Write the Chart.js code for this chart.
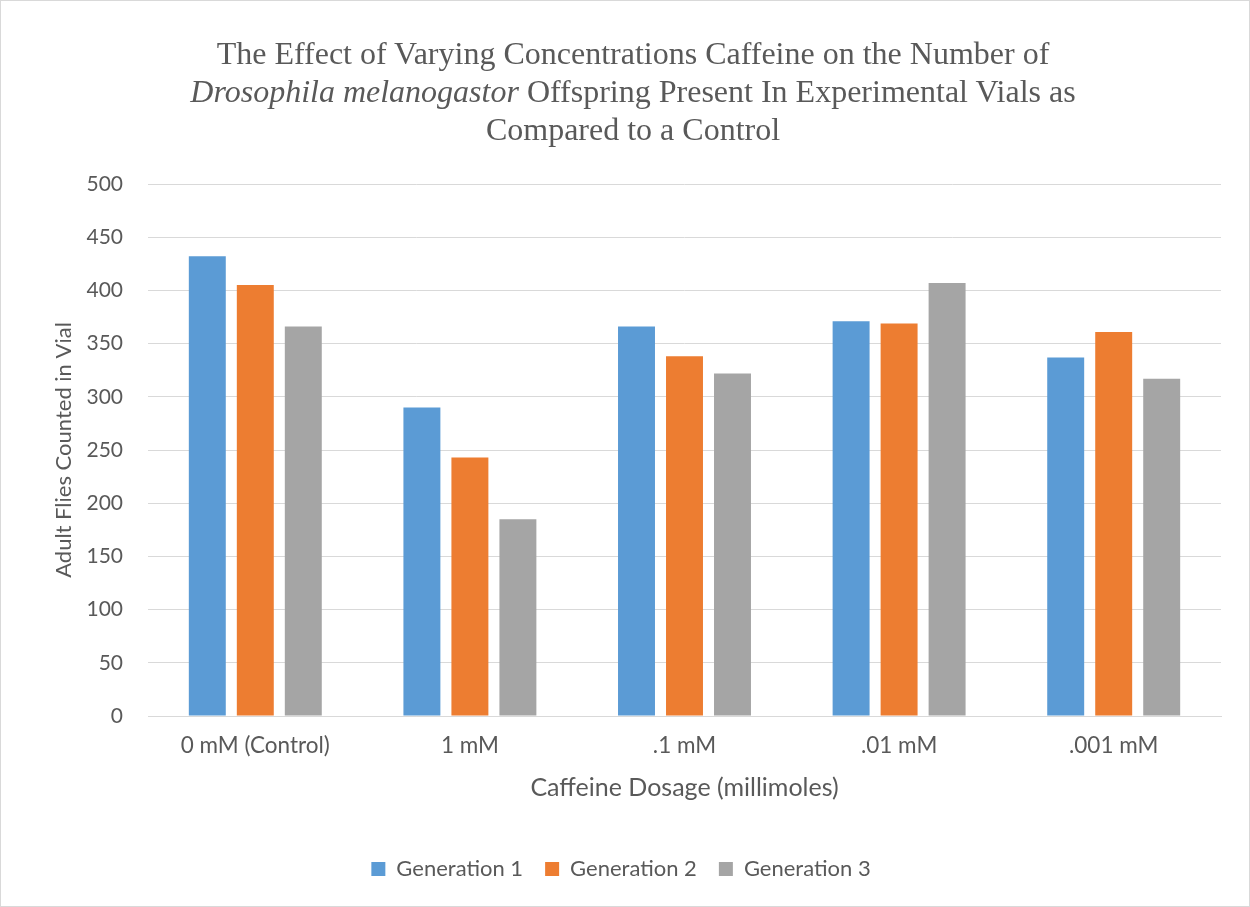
<!DOCTYPE html>
<html>
<head>
<meta charset="utf-8">
<script src="https://cdn.jsdelivr.net/npm/chart.js@4"></script>
<style>
  html, body { margin: 0; padding: 0; background: #fff; }
  #wrap { position: relative; width: 1248px; height: 905px; border: 1px solid #d9d9d9; }
  #title {
    position: absolute; left: 0; top: 33px; width: 1264px; text-align: center;
    font-family: "Liberation Serif", "Times New Roman", serif; font-size: 32px;
    line-height: 38px; color: #595959;
  }
  canvas { position: absolute; left: 0; top: 0; }
</style>
</head>
<body>
<div id="wrap">
  <canvas id="flyChart" width="1248" height="905"></canvas>
  <div id="title">The Effect of Varying Concentrations Caffeine on the Number of<br><i>Drosophila melanogastor</i> Offspring Present In Experimental Vials as<br>Compared to a Control</div>
</div>
<script>
// 値
const dosages = ["0 mM (Control)", "1 mM", ".1 mM", ".01 mM", ".001 mM"];
const generation1 = [432, 290, 366, 371, 337];
const generation2 = [405, 243, 338, 369, 361];
const generation3 = [366, 185, 322, 407, 317];
const seriesNames = ["Generation 1", "Generation 2", "Generation 3"];
const seriesColors = ["#5b9bd5", "#ed7d31", "#a5a5a5"];

const textColor = "#595959";
const fontFamily = "Lato, 'Open Sans', sans-serif";

function makeDataset(i, values) {
  return {
    label: seriesNames[i],
    data: values,
    backgroundColor: seriesColors[i],
    borderWidth: 0,
    categoryPercentage: 0.671,
    barPercentage: 0.77,
  };
}

const chart = new Chart(document.getElementById("flyChart"), {
  type: "bar",
  data: {
    labels: dosages,
    datasets: [
      makeDataset(0, generation1),
      makeDataset(1, generation2),
      makeDataset(2, generation3),
    ],
  },
  options: {
    responsive: false,
    animation: false,
    layout: {
      padding: { top: 183, right: 28, bottom: 16, left: 20 },
    },
    scales: {
      x: {
        grid: { display: false },
        border: { color: "#d9d9d9", width: 1 },
        ticks: {
          color: textColor,
          font: { family: fontFamily, size: 22.5 },
          padding: 8,
        },
        title: {
          display: true,
          text: "Caffeine Dosage (millimoles)",
          color: textColor,
          font: { family: fontFamily, size: 25 },
          padding: { top: 4, bottom: 33 },
        },
        afterFit: (scale) => { scale.height = 120; },
      },
      y: {
        min: 0,
        max: 500,
        ticks: {
          stepSize: 50,
          color: textColor,
          font: { family: fontFamily, size: 21 },
          padding: 25,
        },
        grid: { color: "#d9d9d9", lineWidth: 1, drawTicks: false },
        border: { display: false },
        title: {
          display: true,
          text: "Adult Flies Counted in Vial",
          color: textColor,
          font: { family: fontFamily, size: 22 },
          padding: { top: 30, bottom: 4 },
        },
        afterFit: (scale) => { scale.width = 127; },
      },
    },
    plugins: {
      legend: {
        position: "bottom",
        labels: {
          color: textColor,
          font: { family: fontFamily, size: 22 },
          boxWidth: 14,
          boxHeight: 14,
          padding: 22,
        },
      },
      tooltip: { enabled: false },
    },
  },
});
</script>
</body>
</html>
